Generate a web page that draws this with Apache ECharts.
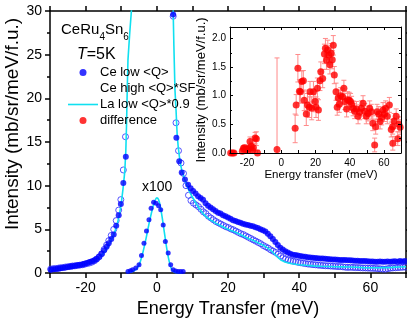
<!DOCTYPE html>
<html>
<head>
<meta charset="utf-8">
<script src="https://cdn.jsdelivr.net/npm/echarts@6/dist/echarts.min.js"></script>
<style>
html,body{margin:0;padding:0;background:#fff;}
#c{width:407px;height:318px;}
</style>
</head>
<body>
<div id="c"></div>
<script>
// ---------- data ----------
var xTicks = [-20, 0, 20, 40, 60];
var ceLow = [
[-29.8,0.38],[-29.1,0.42],[-28.4,0.46],[-27.7,0.5],[-27.1,0.55],[-26.4,0.6],[-25.7,0.64],[-25.0,0.7],
[-24.3,0.74],[-23.7,0.78],[-23.0,0.82],[-22.3,0.88],[-21.6,0.92],[-20.9,0.98],[-20.3,1.05],[-19.6,1.15],
[-18.9,1.25],[-18.2,1.35],[-17.5,1.45],[-16.9,1.6],[-16.2,1.85],[-15.5,2.2],[-14.8,2.6],[-14.1,3.0],
[-13.5,3.4],[-12.8,3.9],[-12.1,4.4],[-11.4,5.4],[-10.7,6.6],[-10.1,7.9],[-9.4,10.3],[-8.7,13.3],
[4.6,29.6],[5.5,15.5],[6.3,12.8],[7.0,11.5],[7.9,10.7],[8.8,10.1],[9.5,9.7],[10.2,9.4],[10.9,9.1],
[11.6,8.8],[12.3,8.6],[13.0,8.4],[13.7,8.0],[14.4,7.7],[15.1,7.5],[15.8,7.3],[16.5,7.1],[17.2,6.9],
[17.9,6.8],[18.6,6.6],[19.3,6.5],[20.0,6.35],[20.7,6.2],[21.4,6.05],[22.1,5.95],[22.8,5.85],[23.5,5.75],
[24.2,5.65],[24.9,5.55],[25.6,5.5],[26.3,5.4],[27.0,5.35],[27.7,5.25],[28.4,5.15],[29.1,5.0],[29.8,4.9],
[30.5,4.75],[31.2,4.5],[31.9,4.2],[32.6,3.9],[33.3,3.55],[34.0,3.2],[34.7,2.9],[35.4,2.7],[36.1,2.5],
[36.8,2.35],[37.5,2.2],[38.2,2.1],[38.9,2.05],[39.6,2.0],[40.3,1.95],[41.0,1.9],[41.7,1.85],[42.4,1.8],
[43.1,1.78],[43.8,1.75],[44.5,1.72],[45.2,1.7],[45.9,1.66],[46.6,1.65],[47.3,1.62],[48.0,1.6],[48.7,1.58],
[49.4,1.55],[50.1,1.55],[50.8,1.52],[51.5,1.5],[52.2,1.5],[52.9,1.48],[53.6,1.45],[54.3,1.45],[55.0,1.42],
[55.7,1.4],[56.4,1.4],[57.1,1.38],[57.8,1.36],[58.5,1.36],[59.2,1.34],[59.9,1.33],[60.6,1.32],[61.3,1.3],
[62.0,1.3],[62.7,1.32],[63.4,1.28],[64.1,1.3],[64.8,1.32],[65.5,1.28],[66.2,1.32],[66.9,1.34],[67.6,1.3],
[68.3,1.36],[69.0,1.33],[69.7,1.36]
];
var ceHigh = [
[-29.8,0.45],[-29.1,0.5],[-28.4,0.52],[-27.7,0.55],[-27.1,0.6],[-26.4,0.62],[-25.7,0.68],[-25.0,0.72],
[-24.3,0.75],[-23.7,0.8],[-23.0,0.82],[-22.3,0.86],[-21.6,0.9],[-20.9,0.95],[-20.3,1.0],[-19.6,1.08],
[-18.9,1.15],[-18.2,1.25],[-17.5,1.4],[-16.9,1.6],[-16.2,1.85],[-15.5,2.2],[-14.8,2.7],[-14.1,3.2],
[-13.5,3.7],[-12.8,4.3],[-12.1,5.0],[-11.4,6.0],[-10.7,7.2],[-10.1,8.4],[-9.4,11.8],[-8.8,15.6],
[4.6,29.4],[5.4,17.2],[6.1,14.0],[6.8,12.6],[7.5,11.4],[8.2,10.0],[8.9,8.9],[9.6,8.3],[10.3,8.0],
[11.0,7.8],[11.7,7.6],[12.4,7.3],[13.1,7.0],[13.8,6.8],[14.5,6.5],[15.2,6.3],[15.9,6.1],[16.6,5.9],
[17.3,5.75],[18.0,5.6],[18.7,5.45],[19.4,5.3],[20.1,5.2],[20.8,5.05],[21.5,4.95],[22.2,4.8],[22.9,4.65],
[23.6,4.5],[24.3,4.4],[25.0,4.25],[25.7,4.1],[26.4,3.95],[27.1,3.8],[27.8,3.65],[28.5,3.5],[29.2,3.35],
[29.9,3.15],[30.6,3.0],[31.3,2.85],[32.0,2.65],[32.7,2.5],[33.4,2.35],[34.1,2.15],[34.8,1.95],[35.5,1.75],
[36.2,1.6],[36.9,1.5],[37.6,1.42],[38.3,1.35],[39.0,1.3],[39.7,1.22],[40.4,1.18],[41.1,1.12],[41.8,1.08],
[42.5,1.02],[43.2,1.0],[43.9,0.96],[44.6,0.94],[45.3,0.9],[46.0,0.88],[46.7,0.85],[47.4,0.83],[48.1,0.82],
[48.8,0.8],[49.5,0.78],[50.2,0.76],[50.9,0.74],[51.6,0.74],[52.3,0.7],[53.0,0.66],[53.7,0.64],[54.4,0.66],
[55.1,0.64],[55.8,0.62],[56.5,0.62],[57.2,0.6],[57.9,0.58],[58.6,0.58],[59.3,0.56],[60.0,0.55],[60.7,0.54],
[61.4,0.52],[62.1,0.5],[62.8,0.48],[63.5,0.45],[64.2,0.44],[64.9,0.5],[65.6,0.55],[66.3,0.58],[67.0,0.6],
[67.7,0.62],[68.4,0.64],[69.1,0.66],[69.8,0.68]
];
var laLow = [
[-30,0.3],[-29,0.34],[-28,0.4],[-27,0.47],[-26,0.55],[-25,0.62],[-24,0.7],[-23,0.78],[-22,0.86],
[-21,0.95],[-20,1.05],[-19,1.17],[-18,1.3],[-17,1.5],[-16,1.8],[-15,2.25],[-14,2.85],[-13,3.6],[-12,4.5],
[-11.5,5.1],[-11,5.8],[-10.5,6.7],[-10,7.9],[-9.5,9.6],[-9,11.6],[-8.7,14],[-8.5,17],[-8.3,21],[-8.1,24.4],
[-7.6,27.5],[-7.1,30.2],[-6.5,36],[4.3,36],[4.6,30],[4.8,26],[5.1,21],[5.4,18.7],[5.7,16],[6.0,14.5],
[6.5,12.8],[7,11.8],[8,10.5],[9,9.5],[10,8.7],[11,8.0],[12,7.3],[13,6.8],[14,6.4],[15,6.1],[16,5.85],
[17,5.6],[18,5.4],[19,5.2],[20,5.0],[21,4.85],[22,4.7],[23,4.5],[24,4.3],[25,4.1],[26,3.9],[27,3.75],
[28,3.55],[29,3.35],[30,3.15],[31,2.9],[32,2.6],[33,2.2],[34,1.8],[35,1.45],[36,1.25],[37,1.15],[38,1.05],
[39,1.0],[40,0.95],[42,0.88],[44,0.82],[46,0.78],[48,0.75],[50,0.72],[52,0.7],[54,0.68],[56,0.65],
[58,0.62],[60,0.6],[62,0.6],[64,0.62],[66,0.64],[68,0.68],[70,0.72]
];
var elasticDots = [
[-8.1,0.18],[-7.4,0.25],[-6.8,0.38],[-5.9,0.57],[-5.0,0.95],[-4.3,2.0],[-3.6,3.4],[-2.9,4.8],[-2.2,6.1],
[-1.6,7.4],[-0.9,8.1],[-0.2,8.0],[0.5,7.7],[1.1,7.25],[1.8,5.5],[2.4,3.6],[3.2,2.3],[3.9,0.95],[4.6,0.38],
[5.3,0.22],[6.0,0.18],[6.7,0.18],[7.4,0.18]
];
var elasticLine = [
[-8.5,0.05],[-7,0.15],[-6,0.35],[-5,0.9],[-4,2.2],[-3,4.0],[-2,6.0],[-1,7.7],[-0.5,8.3],[0,8.6],[0.5,8.4],
[1,7.6],[1.5,6.4],[2,5.0],[2.5,3.6],[3,2.3],[3.5,1.3],[4,0.6],[4.5,0.25],[5,0.1],[6,0.03],[7,0.02]
];
// inset: difference [x, y, error]
var diffX = [-29.6,-28.6,-27.7,-22.8,-22.2,-21.5,-20.9,-20.2,-19.6,-19.0,-18.3,-17.6,-16.9,-16.3,-15.3,-14.6,-13.9,
-2.5,8.1,8.7,9.7,10.6,11.2,12.0,12.9,13.4,14.6,15.3,16.4,16.8,17.8,18.8,19.7,20.3,21.1,21.7,22.6,23.1,24.2,
25.2,25.8,26.4,27.2,27.8,28.4,29.2,29.8,30.4,31.0,32.0,32.7,33.3,33.9,34.7,35.8,36.6,37.2,38.2,38.8,39.7,
40.5,41.1,42.0,42.9,43.9,44.9,45.8,46.8,47.8,48.8,49.7,50.7,51.7,52.6,53.5,54.6,55.2,56.0,57.0,57.8,58.7,
59.5,60.3,61.0,62.0,63.2,64.3,65.1,65.2,66.0,67.2,68.1,68.7,69.5];
var diffY = [0.0,0.0,0.0,0.03,0.08,0.09,0.06,0.07,0.05,0.08,0.2,0.12,0.05,0.09,0.26,0.25,0.0,
0.06,0.43,0.84,1.48,1.08,1.07,1.25,1.26,0.92,0.68,0.84,0.80,1.07,0.78,1.07,0.90,0.80,1.13,0.75,1.26,1.42,1.30,
1.73,1.83,1.62,1.80,1.71,1.54,1.74,1.63,1.88,1.36,1.07,0.80,0.96,0.85,1.00,0.98,1.13,0.90,0.77,0.93,0.92,
0.90,0.85,0.78,0.73,0.77,0.64,0.71,0.78,0.87,0.73,0.64,0.69,0.78,0.72,0.52,0.14,0.46,0.72,0.68,0.55,0.62,
0.75,0.68,0.78,0.64,0.84,0.41,0.46,0.17,0.56,0.64,0.25,0.50,0.45];
var diffErr = [0.03,0.03,0.03,0.05,0.05,0.05,0.05,0.05,0.05,0.06,0.08,0.07,0.06,0.07,0.1,0.12,0.05,
1.6,0.25,0.18,0.24,0.2,0.2,0.18,0.18,0.18,0.2,0.2,0.18,0.18,0.2,0.18,0.18,0.18,0.18,0.18,0.17,0.17,0.16,
0.17,0.17,0.16,0.17,0.16,0.16,0.17,0.16,0.17,0.15,0.15,0.14,0.14,0.14,0.14,0.14,0.14,0.14,0.14,0.14,0.14,
0.14,0.14,0.13,0.13,0.13,0.13,0.13,0.13,0.13,0.13,0.13,0.13,0.13,0.13,0.13,0.12,0.13,0.13,0.13,0.13,0.13,
0.13,0.13,0.13,0.13,0.13,0.13,0.13,0.12,0.13,0.13,0.12,0.13,0.13];

// ---------- chart ----------
var FONT = 'Liberation Sans, Arial, sans-serif';
var diffData = diffX.map(function (x, i) { return [x, diffY[i], diffErr[i]]; });
var labelEvery20 = function (v) { return (xTicks.indexOf(Math.round(v)) >= 0) ? String(Math.round(v)) : ''; };

var chart = echarts.init(document.getElementById('c'), null, {renderer: 'canvas'});
var blk = '#000';
function xAx(grid, pos, showLabel, inside, len, lw, fs, name, nameGap, namePad) {
  return {
    type: 'value', gridIndex: grid, position: pos, min: -30, max: 70, interval: 10, z: grid === 1 ? 8 : 1,
    axisLine: {show: true, onZero: false, lineStyle: {color: blk, width: lw}},
    axisTick: {show: true, inside: inside, length: len, lineStyle: {color: blk, width: lw}},
    axisLabel: {show: showLabel, formatter: labelEvery20, color: blk, fontSize: fs, fontFamily: FONT, margin: grid === 0 ? 8 : 5},
    splitLine: {show: false},
    name: name || '', nameLocation: 'middle', nameGap: nameGap || 0,
    nameTextStyle: {color: blk, fontSize: grid === 0 ? 18 : 11.5, fontFamily: FONT, padding: namePad || 0}
  };
}
function yAx(grid, pos, showLabel, inside, len, lw, fs, max, interval, name, nameGap, nameFs) {
  return {
    type: 'value', gridIndex: grid, position: pos, min: 0, max: max, interval: interval, z: grid === 1 ? 8 : 1,
    axisLine: {show: true, onZero: false, lineStyle: {color: blk, width: lw}},
    axisTick: {show: true, inside: inside, length: len, lineStyle: {color: blk, width: lw}},
    minorTick: {show: true, splitNumber: 2, length: Math.max(2, len - 2), lineStyle: {color: blk, width: lw}},
    axisLabel: {show: showLabel, color: blk, fontSize: fs, fontFamily: FONT, margin: grid === 0 ? 8 : 4,
      showMaxLabel: grid === 0,
      formatter: grid === 0 ? function (v) { return String(v); } : function (v) { return v.toFixed(1); }},
    splitLine: {show: false},
    name: name || '', nameLocation: 'middle', nameGap: nameGap || 0,
    nameTextStyle: {color: blk, fontSize: nameFs || 12, fontFamily: FONT}
  };
}

var option = {
  animation: false,
  backgroundColor: '#fff',
  textStyle: {fontFamily: FONT},
  grid: [
    {left: 50, top: 11, width: 356, height: 262, outerBoundsMode: 'none', containLabel: false},
    {left: 230, top: 27, width: 171, height: 126, outerBoundsMode: 'none', containLabel: false,
      show: true, backgroundColor: '#fff', borderWidth: 0, z: 5}
  ],
  xAxis: [
    xAx(0, 'bottom', true, false, 5, 1.5, 14, 'Energy Transfer (meV)', 23),
    xAx(0, 'top', false, false, 5, 1.5, 14),
    xAx(1, 'bottom', true, true, 3, 1, 10, 'Energy transfer (meV)', 16, [0, 0, 0, 11]),
    xAx(1, 'top', false, true, 3, 1, 10)
  ],
  yAxis: [
    yAx(0, 'left', true, false, 5, 1.5, 14, 30, 5),
    yAx(0, 'right', false, false, 5, 1.5, 14, 30, 5),
    yAx(1, 'left', true, true, 3, 1, 10, 2.2, 0.5, 'Intensity (mb/sr/meV/f.u.)', 22, 13),
    yAx(1, 'right', false, true, 3, 1, 10, 2.2, 0.5)
  ],
  legend: {
    orient: 'vertical', left: 63, top: 61, itemWidth: 30, itemHeight: 7, itemGap: 3,
    textStyle: {fontSize: 13, color: '#000', fontFamily: FONT, padding: [0, 0, 0, -3]},
    data: [
      {name: 'Ce low <Q>', icon: 'circle'},
      {name: 'Ce high <Q>*SF', icon: 'emptyCircle', itemStyle: {color: '#fff', borderColor: '#2a2aff', borderWidth: 1}},
      {name: 'La low <Q>*0.9', icon: 'path://M0,0 L30,0 L30,1.6 L0,1.6 Z', itemStyle: {color: '#10e0f0', borderWidth: 0}},
      {name: 'difference', icon: 'circle'}
    ]
  },
  graphic: [
    {type: 'text', x: 13, y: 124, rotation: Math.PI / 2,
      style: {text: 'Intensity (mb/sr/meV/f.u.)', font: '19px ' + FONT, fill: '#000', align: 'center', verticalAlign: 'middle'}},
    {type: 'text', left: 61, top: 22, style: {text: 'CeRu', font: '15px ' + FONT, fill: '#000'}},
    {type: 'text', left: 99.5, top: 32, style: {text: '4', font: '10px ' + FONT, fill: '#000'}},
    {type: 'text', left: 105, top: 22, style: {text: 'Sn', font: '15px ' + FONT, fill: '#000'}},
    {type: 'text', left: 123.3, top: 32, style: {text: '6', font: '10px ' + FONT, fill: '#000'}},
    {type: 'text', left: 77, top: 47, style: {text: '{i|T}=5K', font: '16px ' + FONT, fill: '#000',
      rich: {i: {fontStyle: 'italic', fontSize: 16, fontFamily: FONT}}}},
    {type: 'text', left: 142, top: 180, style: {text: 'x100', font: '14px ' + FONT, fill: '#000'}}
  ],
  series: [
    {name: 'Ce high <Q>*SF', type: 'scatter', xAxisIndex: 0, yAxisIndex: 0, data: ceHigh, symbol: 'circle', symbolSize: 6,
      itemStyle: {color: 'rgba(255,255,255,0)', borderColor: '#2a2aff', borderWidth: 1}, z: 2},
    {name: 'La low <Q>*0.9', type: 'line', xAxisIndex: 0, yAxisIndex: 0, data: laLow, showSymbol: false, symbol: 'none',
      lineStyle: {color: '#10e0f0', width: 1.6}, itemStyle: {color: '#10e0f0'}, z: 3, clip: true},
    {name: 'Ce low <Q>', type: 'scatter', xAxisIndex: 0, yAxisIndex: 0, data: ceLow, symbol: 'circle', symbolSize: 6,
      itemStyle: {color: '#0000ff'}, z: 4},
    {name: 'elastic x100 line', type: 'line', xAxisIndex: 0, yAxisIndex: 0, data: elasticLine, showSymbol: false, symbol: 'none',
      smooth: 0.3, lineStyle: {color: '#10e0f0', width: 1.6}, z: 3},
    {name: 'elastic x100', type: 'scatter', xAxisIndex: 0, yAxisIndex: 0, data: elasticDots, symbol: 'circle', symbolSize: 5,
      itemStyle: {color: '#0000ff'}, z: 4},
    {name: 'difference err', type: 'custom', xAxisIndex: 2, yAxisIndex: 2, data: diffData, clip: true, z: 6,
      renderItem: function (params, api) {
        var x = api.value(0), y = api.value(1), e = api.value(2);
        var t = api.coord([x, y + e]);
        var b = api.coord([x, y - e]);
        var w = 2.5;
        var st = {stroke: '#ff8a8a', lineWidth: 1};
        return {type: 'group', children: [
          {type: 'line', shape: {x1: t[0], y1: t[1], x2: b[0], y2: b[1]}, style: st},
          {type: 'line', shape: {x1: t[0] - w, y1: t[1], x2: t[0] + w, y2: t[1]}, style: st},
          {type: 'line', shape: {x1: b[0] - w, y1: b[1], x2: b[0] + w, y2: b[1]}, style: st}
        ]};
      },
      encode: {x: 0, y: 1}},
    {name: 'difference', type: 'scatter', xAxisIndex: 2, yAxisIndex: 2, data: diffData, symbol: 'circle', symbolSize: 7,
      itemStyle: {color: '#ff0000'}, z: 7, encode: {x: 0, y: 1}}
  ]
};
chart.setOption(option);
</script>
</body>
</html>
